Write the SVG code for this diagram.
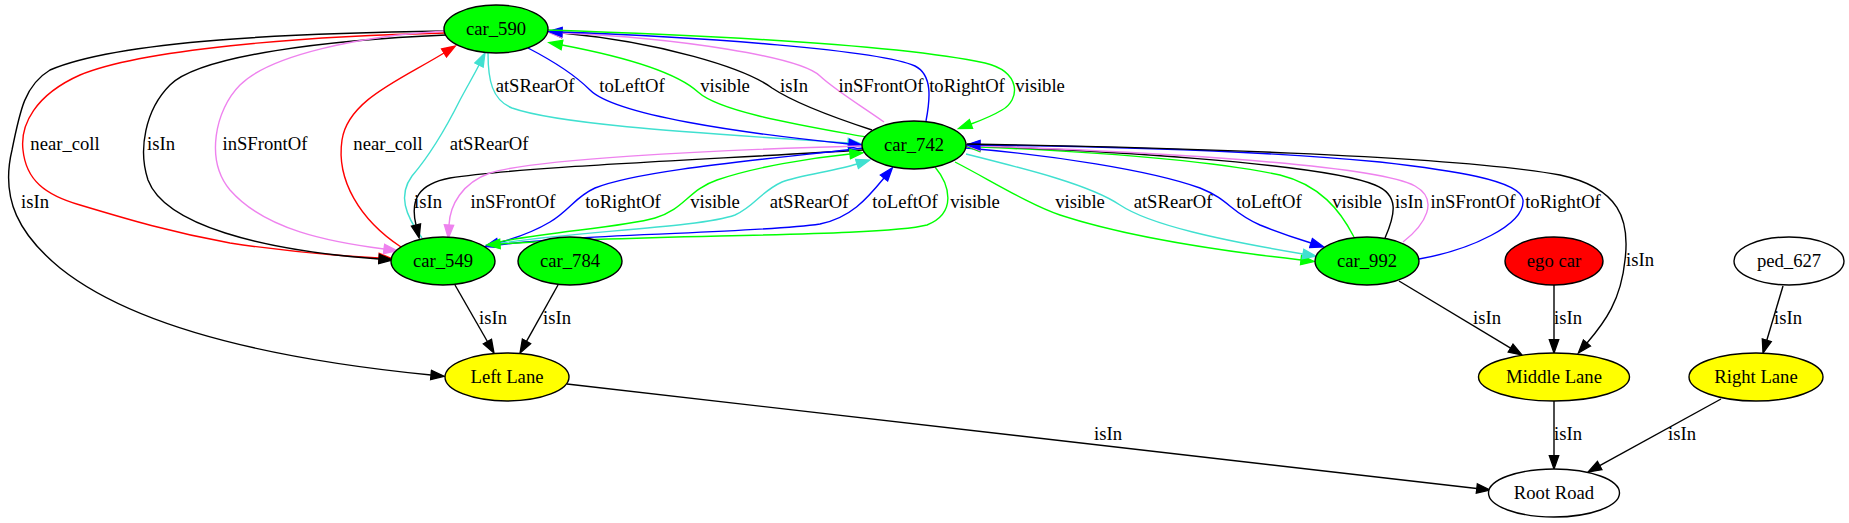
<svg xmlns="http://www.w3.org/2000/svg" width="1849" height="523" viewBox="0 0 1849 523">
<style>
text{font-family:"Liberation Serif","Times New Roman",serif;font-size:18.67px;text-anchor:middle;fill:#000}
.n ellipse{stroke:#000;stroke-width:1.4}
.e path{fill:none;stroke-width:1.4}
.k{stroke:#000}.r{stroke:#ff0000}.v{stroke:#ee82ee}.b{stroke:#0000ff}.g{stroke:#00ff00}.t{stroke:#40e0d0}
.k{marker-end:url(#mk)}.r{marker-end:url(#mr)}.v{marker-end:url(#mv)}.b{marker-end:url(#mb)}.g{marker-end:url(#mg)}.t{marker-end:url(#mt)}
</style>
<defs>
<marker id="mk" viewBox="-1 -6 16 12" refX="0" refY="0" markerWidth="16" markerHeight="12" markerUnits="userSpaceOnUse" orient="auto"><path d="M0,-4.7L13.3,0L0,4.7z" fill="#000" stroke="#000" stroke-width="1.3"/></marker>
<marker id="mr" viewBox="-1 -6 16 12" refX="0" refY="0" markerWidth="16" markerHeight="12" markerUnits="userSpaceOnUse" orient="auto"><path d="M0,-4.7L13.3,0L0,4.7z" fill="#ff0000" stroke="#ff0000" stroke-width="1.3"/></marker>
<marker id="mv" viewBox="-1 -6 16 12" refX="0" refY="0" markerWidth="16" markerHeight="12" markerUnits="userSpaceOnUse" orient="auto"><path d="M0,-4.7L13.3,0L0,4.7z" fill="#ee82ee" stroke="#ee82ee" stroke-width="1.3"/></marker>
<marker id="mb" viewBox="-1 -6 16 12" refX="0" refY="0" markerWidth="16" markerHeight="12" markerUnits="userSpaceOnUse" orient="auto"><path d="M0,-4.7L13.3,0L0,4.7z" fill="#0000ff" stroke="#0000ff" stroke-width="1.3"/></marker>
<marker id="mg" viewBox="-1 -6 16 12" refX="0" refY="0" markerWidth="16" markerHeight="12" markerUnits="userSpaceOnUse" orient="auto"><path d="M0,-4.7L13.3,0L0,4.7z" fill="#00ff00" stroke="#00ff00" stroke-width="1.3"/></marker>
<marker id="mt" viewBox="-1 -6 16 12" refX="0" refY="0" markerWidth="16" markerHeight="12" markerUnits="userSpaceOnUse" orient="auto"><path d="M0,-4.7L13.3,0L0,4.7z" fill="#40e0d0" stroke="#40e0d0" stroke-width="1.3"/></marker>
</defs>
<rect width="1849" height="523" fill="#fff"/>
<g id="edges" class="e">
<path class="k" d="M446,31 C300,33 120,40 50,70 C25,85 20,110 12,150 C0,200 20,235 60,268 C150,340 330,365 431,375"/>
<path class="r" d="M446,33 C300,36 140,50 80,75 C35,95 20,125 23,150 C26,180 45,195 80,205 C130,220 170,232 230,243 C290,252 340,256 379,258"/>
<path class="k" d="M446,35 C330,40 200,55 170,85 C145,110 138,150 148,180 C165,225 260,250 379,259"/>
<path class="v" d="M446,31 C360,36 270,55 240,85 C215,110 205,160 230,190 C265,230 330,242 384,249"/>
<path class="r" d="M401,247 C360,220 336,180 342,140 C348,100 400,80 444,53"/>
<path class="t" d="M422,238 C405,215 398,195 412,176 C430,155 445,130 460,100 C468,85 474,75 479,65"/>
<path class="t" d="M488,53 C488,80 492,100 512,108 C560,125 700,133 848,143"/>
<path class="b" d="M528,48 C555,62 575,75 590,90 C615,115 740,133 849,144"/>
<path class="g" d="M866,137 C800,125 720,112 698,92 C676,72 620,56 562,45"/>
<path class="k" d="M872,130 C820,113 790,100 772,88 C745,68 660,42 562,33"/>
<path class="v" d="M884,122 C860,105 835,90 820,76 C800,57 680,38 562,33"/>
<path class="b" d="M926,121 C930,100 933,75 915,66 C880,50 700,37 562,32"/>
<path class="g" d="M548,30 C700,35 900,45 985,63 C1022,72 1020,100 1002,110 C992,116 982,120 971,124"/>
<path class="k" d="M863,150 C700,160 520,167 450,178 C418,184 410,200 416,225"/>
<path class="v" d="M862,146 C700,150 530,160 490,173 C462,183 450,205 449,225"/>
<path class="b" d="M864,148 C760,160 640,170 595,188 C575,197 570,210 550,222 C535,231 516,238 498,243"/>
<path class="g" d="M489,244 C540,232 620,228 655,218 C685,209 688,190 717,180 C755,167 810,158 850,154"/>
<path class="t" d="M490,245 C560,232 700,228 735,215 C755,206 760,192 782,182 C800,175 835,171 857,164"/>
<path class="b" d="M491,246 C580,233 750,234 820,224 C850,218 866,200 884,178"/>
<path class="g" d="M935,167 C950,185 957,213 927,225 C880,237 650,234 500,244"/>
<path class="g" d="M955,162 C990,180 1030,205 1060,215 C1130,238 1230,252 1301,260"/>
<path class="t" d="M966,154 C1030,170 1090,185 1120,205 C1150,225 1220,240 1303,254"/>
<path class="b" d="M966,148 C1050,155 1150,170 1200,188 C1230,200 1230,212 1260,225 C1280,233 1295,238 1311,243"/>
<path class="g" d="M1354,237 C1340,210 1320,185 1280,175 C1200,158 1050,150 980,147"/>
<path class="k" d="M1385,238 C1395,215 1400,195 1375,185 C1320,162 1080,150 980,146"/>
<path class="v" d="M1403,242 C1425,225 1440,200 1415,186 C1370,162 1100,150 980,146"/>
<path class="b" d="M1419,259 C1470,250 1525,225 1523,200 C1521,180 1450,170 1380,162 C1250,150 1080,146 980,145"/>
<path class="k" d="M967,144 C1150,147 1450,155 1560,175 C1620,188 1630,220 1625,260 C1621,300 1605,322 1587,343"/>
<path class="k" d="M455,285 L487.4,341.5"/>
<path class="k" d="M558,285 L526.5,341.4"/>
<path class="k" d="M567,384 L1476.8,488.5"/>
<path class="k" d="M1399,281 L1510.6,348.1"/>
<path class="k" d="M1554,285 L1554,339.7"/>
<path class="k" d="M1554,401 L1554,455.7"/>
<path class="k" d="M1721,399 L1599.7,465.6"/>
<path class="k" d="M1783,286 L1766.8,340.3"/>
<text x="65" y="150">near_coll</text>
<text x="161" y="150">isIn</text>
<text x="265" y="150">inSFrontOf</text>
<text x="388" y="150">near_coll</text>
<text x="489" y="150">atSRearOf</text>
<text x="35" y="208">isIn</text>
<text x="535" y="92">atSRearOf</text>
<text x="632" y="92">toLeftOf</text>
<text x="725" y="92">visible</text>
<text x="794" y="92">isIn</text>
<text x="881" y="92">inSFrontOf</text>
<text x="967" y="92">toRightOf</text>
<text x="1040" y="92">visible</text>
<text x="428" y="208">isIn</text>
<text x="513" y="208">inSFrontOf</text>
<text x="623" y="208">toRightOf</text>
<text x="715" y="208">visible</text>
<text x="809" y="208">atSRearOf</text>
<text x="905" y="208">toLeftOf</text>
<text x="975" y="208">visible</text>
<text x="1080" y="208">visible</text>
<text x="1173" y="208">atSRearOf</text>
<text x="1269" y="208">toLeftOf</text>
<text x="1357" y="208">visible</text>
<text x="1409" y="208">isIn</text>
<text x="1473" y="208">inSFrontOf</text>
<text x="1563" y="208">toRightOf</text>
<text x="1640" y="266">isIn</text>
<text x="493" y="324">isIn</text>
<text x="557" y="324">isIn</text>
<text x="1108" y="440">isIn</text>
<text x="1487" y="324">isIn</text>
<text x="1568" y="324">isIn</text>
<text x="1568" y="440">isIn</text>
<text x="1682" y="440">isIn</text>
<text x="1788" y="324">isIn</text>
</g>
<g id="car_590" class="n"><ellipse cx="496" cy="29" rx="52" ry="24" fill="#00ff00"/><text x="496" y="35">car_590</text></g>
<g id="car_742" class="n"><ellipse cx="914" cy="145" rx="52" ry="24" fill="#00ff00"/><text x="914" y="151">car_742</text></g>
<g id="car_549" class="n"><ellipse cx="443" cy="261" rx="52" ry="24" fill="#00ff00"/><text x="443" y="267">car_549</text></g>
<g id="car_784" class="n"><ellipse cx="570" cy="261" rx="52" ry="24" fill="#00ff00"/><text x="570" y="267">car_784</text></g>
<g id="car_992" class="n"><ellipse cx="1367" cy="261" rx="52" ry="24" fill="#00ff00"/><text x="1367" y="267">car_992</text></g>
<g id="ego_car" class="n"><ellipse cx="1554" cy="261" rx="49" ry="24" fill="#ff0000"/><text x="1554" y="267">ego car</text></g>
<g id="ped_627" class="n"><ellipse cx="1789" cy="261" rx="55" ry="24" fill="#ffffff"/><text x="1789" y="267">ped_627</text></g>
<g id="left_lane" class="n"><ellipse cx="507" cy="377" rx="62" ry="24" fill="#ffff00"/><text x="507" y="383">Left Lane</text></g>
<g id="middle_lane" class="n"><ellipse cx="1554" cy="377" rx="75.5" ry="24" fill="#ffff00"/><text x="1554" y="383">Middle Lane</text></g>
<g id="right_lane" class="n"><ellipse cx="1756" cy="377" rx="67" ry="24" fill="#ffff00"/><text x="1756" y="383">Right Lane</text></g>
<g id="root_road" class="n"><ellipse cx="1554" cy="493" rx="65.5" ry="24" fill="#ffffff"/><text x="1554" y="499">Root Road</text></g>
</svg>
